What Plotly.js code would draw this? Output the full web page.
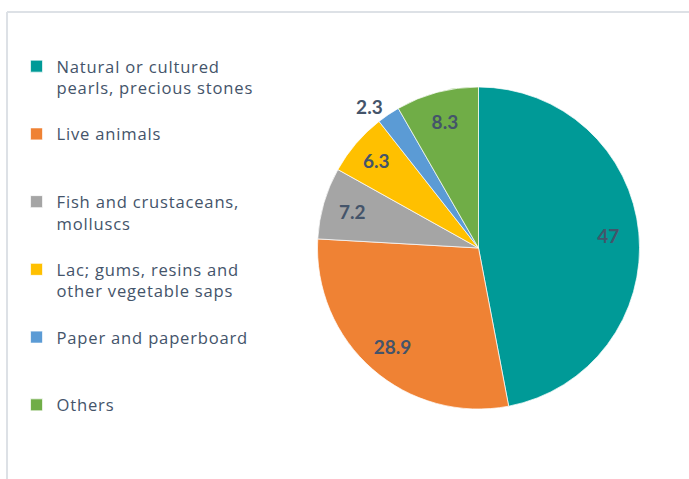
<!DOCTYPE html>
<html><head><meta charset="utf-8">
<script src="https://cdn.plot.ly/plotly-3.0.1.min.js"></script>
<style>
html,body{margin:0;padding:0;background:#fff}
#chart{width:689px;height:479px}
.legendtext{letter-spacing:0.8px}
</style>
</head><body><div id="chart"></div>
<script>
const categories = [
  "Natural or cultured<br>pearls, precious stones",
  "Live animals",
  "Fish and crustaceans,<br>molluscs",
  "Lac; gums, resins and<br>other vegetable saps",
  "Paper and paperboard",
  "Others"
];
const shares = [47, 28.9, 7.2, 6.3, 2.3, 8.3];
const colors = ["#009A97", "#EF8234", "#A5A5A5", "#FFC000", "#5B9BD5", "#70AD47"];
const textPositions = ["inside", "inside", "inside", "inside", "outside", "inside"];

// pad entries to equal 3-line slots (the source legend spaces entries evenly)
const legendLabels = categories.map((c, i) => {
  const n = c.split("<br>").length;
  const pad = i === categories.length - 1 ? 0 : 3 - n;
  return c + "<br> ".repeat(pad);
});

const pieDomain = {x: [0.4608, 0.9282], y: [0.1461, 0.8184]};
const labelFont = {family: "Lato, 'Open Sans', sans-serif", size: 19, color: "#44546A", weight: "bold"};

const slices = {
  type: "pie",
  labels: legendLabels,
  values: shares,
  sort: false,
  direction: "clockwise",
  rotation: 0,
  marker: {colors: colors, line: {color: "#ffffff", width: 0.7}},
  textinfo: "none",
  domain: pieDomain,
  hoverinfo: "label+value"
};

// transparent ring carrying the value labels further out, like the source
const labelRing = {
  type: "pie",
  labels: legendLabels,
  values: shares,
  sort: false,
  direction: "clockwise",
  rotation: 0,
  hole: 0.62,
  showlegend: false,
  marker: {colors: shares.map(() => "rgba(0,0,0,0)"), line: {width: 0}},
  textinfo: "value",
  textposition: textPositions,
  insidetextorientation: "horizontal",
  textfont: labelFont,
  outsidetextfont: labelFont,
  domain: pieDomain,
  hoverinfo: "skip"
};

const layout = {
  width: 689, height: 479,
  margin: {l: 0, r: 0, t: 0, b: 0},
  paper_bgcolor: "#ffffff",
  showlegend: true,
  legend: {
    x: 0.024, y: 0.898, xanchor: "left", yanchor: "top",
    valign: "top", itemwidth: 30,
    font: {family: "'Open Sans', sans-serif", size: 16.6, color: "#44546A"},
    bgcolor: "rgba(0,0,0,0)"
  },
  shapes: [
    {type: "line", xref: "paper", yref: "paper", x0: 0.0102, x1: 1, y0: 0.975, y1: 0.975, line: {color: "#DDE1E6", width: 2}},
    {type: "line", xref: "paper", yref: "paper", x0: 0.0102, x1: 0.0102, y0: 0, y1: 0.975, line: {color: "#DDE1E6", width: 2}}
  ]
};

Plotly.newPlot("chart", [slices, labelRing], layout, {displayModeBar: false, staticPlot: true});
</script></body></html>
